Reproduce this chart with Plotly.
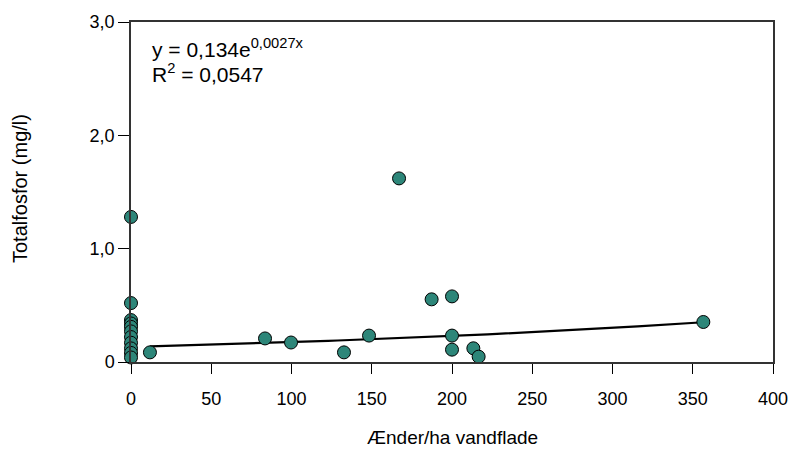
import numpy as np
import plotly.graph_objects as go

# Data: ducks per ha water surface vs total phosphorus (mg/l)
ducks_per_ha = [0, 0, 0, 0, 0, 0, 0, 0, 0, 0, 0,
                11.8, 83.5, 99.7, 132.7, 148.3, 167, 187.3, 200, 200, 200,
                213.3, 216.6, 356.6]
total_p = [1.28, 0.52, 0.37, 0.34, 0.31, 0.27, 0.22, 0.17, 0.12, 0.08, 0.04,
           0.085, 0.208, 0.172, 0.085, 0.233, 1.62, 0.553, 0.579, 0.233, 0.109,
           0.121, 0.047, 0.353]

# Trend line given on the chart: y = 0.134 * e^(0.0027 x)
trend_a = 0.134
trend_b = 0.0027
trend_x_start = 11.8
trend_x_end = 356.6

x_ticks = [0, 50, 100, 150, 200, 250, 300, 350, 400]
y_tick_vals = [0, 1, 2, 3]
y_tick_text = ["0", "1,0", "2,0", "3,0"]

trend_x = np.linspace(trend_x_start, trend_x_end, 60)
trend_y = trend_a * np.exp(trend_b * trend_x)

FONT = "Liberation Sans, Arial, sans-serif"
TEAL = "#2d8679"

L, R, T, B = 131, 773, 22, 362
PW, PH = R - L, B - T

fig = go.Figure()
fig.add_trace(go.Scatter(
    x=trend_x, y=trend_y, mode="lines",
    line=dict(color="black", width=2.2), hoverinfo="skip", showlegend=False,
))
fig.add_trace(go.Scatter(
    x=ducks_per_ha, y=total_p, mode="markers", cliponaxis=False,
    marker=dict(size=13, color=TEAL, line=dict(color="black", width=1)),
    showlegend=False,
))

fig.update_layout(
    width=791, height=450,
    margin=dict(l=L, r=791 - R, t=T, b=450 - B),
    plot_bgcolor="white", paper_bgcolor="white",
    font=dict(family=FONT, size=18, color="black"),
    xaxis=dict(
        range=[0, 400], tickvals=x_ticks, ticks="outside", ticklen=10,
        tickcolor="black", tickwidth=1, showline=True, linecolor="#333",
        linewidth=1.5, mirror=True, showgrid=False, zeroline=False,
        ticklabelstandoff=10, tickfont=dict(size=18), automargin=False,
        ticklabeloverflow="allow",
    ),
    yaxis=dict(
        range=[0, 3], tickvals=y_tick_vals, ticktext=y_tick_text,
        ticks="outside", ticklen=11, tickcolor="black", tickwidth=1,
        showline=True, linecolor="#333", linewidth=1.5, mirror=True,
        showgrid=False, zeroline=False, tickfont=dict(size=18),
        automargin=False, ticklabeloverflow="allow",
    ),
    annotations=[
        dict(text="y = 0,134e<sup>0,0027x</sup>", xref="paper", yref="paper",
             x=(150 - L) / PW, y=(B - 48) / PH, xanchor="left",
             yanchor="middle", showarrow=False, font=dict(size=21)),
        dict(text="R<sup>2</sup> = 0,0547", xref="paper", yref="paper",
             x=(150 - L) / PW, y=(B - 73) / PH, xanchor="left",
             yanchor="middle", showarrow=False, font=dict(size=21)),
        dict(text="Totalfosfor (mg/l)", xref="paper", yref="paper",
             x=(20 - L) / PW, y=(B - 189) / PH, xanchor="center",
             yanchor="middle", textangle=-90, showarrow=False,
             font=dict(size=20)),
        dict(text="Ænder/ha vandflade", xref="paper", yref="paper",
             x=(452 - L) / PW, y=(B - 437) / PH, xanchor="center",
             yanchor="middle", showarrow=False, font=dict(size=19)),
    ],
)

fig.write_html("out.html")
